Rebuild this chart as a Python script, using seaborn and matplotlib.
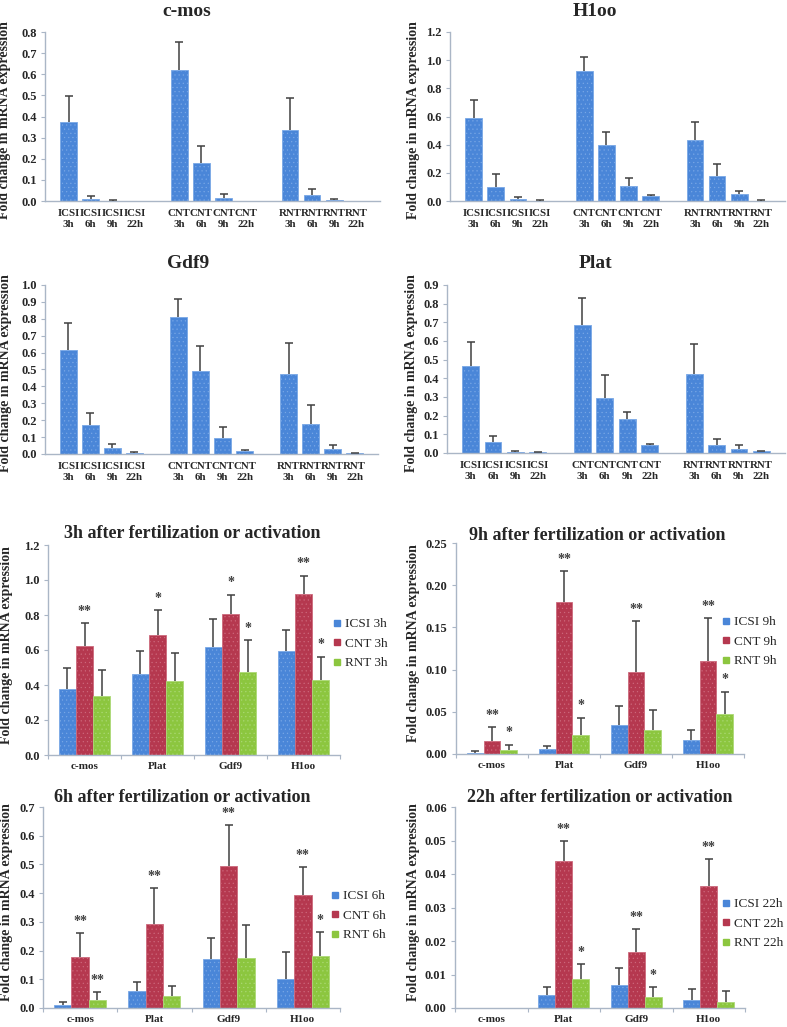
import matplotlib
matplotlib.use("Agg")
import matplotlib.pyplot as plt
from matplotlib.lines import Line2D
from matplotlib.ticker import FixedLocator, FormatStrFormatter, MultipleLocator
import numpy as np
import pandas as pd
import seaborn as sns

# ---------------- data ----------------
genes = ["c-mos", "Plat", "Gdf9", "H1oo"]
groups = ["ICSI", "CNT", "RNT"]
times = ["3h", "6h", "9h", "22h"]

# mean fold change, per time (3h, 6h, 9h, 22h)
cmos_icsi = [0.375, 0.010, 0.0015, 0.0]
cmos_cnt = [0.622, 0.178, 0.0155, 0.0]
cmos_rnt = [0.337, 0.027, 0.005, 0.0]
plat_icsi = [0.465, 0.058, 0.006, 0.0038]
plat_cnt = [0.685, 0.292, 0.180, 0.0438]
plat_rnt = [0.422, 0.043, 0.022, 0.0087]
gdf9_icsi = [0.615, 0.172, 0.034, 0.0068]
gdf9_cnt = [0.808, 0.493, 0.097, 0.0167]
gdf9_rnt = [0.475, 0.175, 0.028, 0.0033]
h1oo_icsi = [0.592, 0.100, 0.016, 0.0025]
h1oo_cnt = [0.922, 0.395, 0.110, 0.0363]
h1oo_rnt = [0.430, 0.180, 0.047, 0.0018]

# error (upper error bar length)
cmos_icsi_err = [0.120, 0.012, 0.0015, 0.0]
cmos_cnt_err = [0.133, 0.084, 0.0165, 0.0]
cmos_rnt_err = [0.151, 0.029, 0.006, 0.0]
plat_icsi_err = [0.132, 0.034, 0.004, 0.0024]
plat_cnt_err = [0.143, 0.126, 0.037, 0.0061]
plat_rnt_err = [0.161, 0.032, 0.021, 0.0043]
gdf9_icsi_err = [0.162, 0.071, 0.023, 0.0050]
gdf9_cnt_err = [0.109, 0.145, 0.060, 0.0070]
gdf9_rnt_err = [0.183, 0.113, 0.024, 0.0029]
h1oo_icsi_err = [0.123, 0.095, 0.012, 0.0032]
h1oo_cnt_err = [0.103, 0.095, 0.051, 0.0081]
h1oo_rnt_err = [0.132, 0.084, 0.027, 0.0032]

# significance marks: (gene, group, mark) per time point
stars_3h = [("c-mos", "CNT", "**"), ("Plat", "CNT", "*"), ("Gdf9", "CNT", "*"),
            ("Gdf9", "RNT", "*"), ("H1oo", "CNT", "**"), ("H1oo", "RNT", "*")]
stars_9h = [("c-mos", "CNT", "**"), ("c-mos", "RNT", "*"), ("Plat", "CNT", "**"),
            ("Plat", "RNT", "*"), ("Gdf9", "CNT", "**"), ("H1oo", "CNT", "**"),
            ("H1oo", "RNT", "*")]
stars_6h = [("c-mos", "CNT", "**"), ("c-mos", "RNT", "**"), ("Plat", "CNT", "**"),
            ("Gdf9", "CNT", "**"), ("H1oo", "CNT", "**"), ("H1oo", "RNT", "*")]
stars_22h = [("Plat", "CNT", "**"), ("Plat", "RNT", "*"), ("Gdf9", "CNT", "**"),
             ("Gdf9", "RNT", "*"), ("H1oo", "CNT", "**")]

# ---------------- assemble ----------------
means = {
    "c-mos": {"ICSI": cmos_icsi, "CNT": cmos_cnt, "RNT": cmos_rnt},
    "Plat": {"ICSI": plat_icsi, "CNT": plat_cnt, "RNT": plat_rnt},
    "Gdf9": {"ICSI": gdf9_icsi, "CNT": gdf9_cnt, "RNT": gdf9_rnt},
    "H1oo": {"ICSI": h1oo_icsi, "CNT": h1oo_cnt, "RNT": h1oo_rnt},
}
errs = {
    "c-mos": {"ICSI": cmos_icsi_err, "CNT": cmos_cnt_err, "RNT": cmos_rnt_err},
    "Plat": {"ICSI": plat_icsi_err, "CNT": plat_cnt_err, "RNT": plat_rnt_err},
    "Gdf9": {"ICSI": gdf9_icsi_err, "CNT": gdf9_cnt_err, "RNT": gdf9_rnt_err},
    "H1oo": {"ICSI": h1oo_icsi_err, "CNT": h1oo_cnt_err, "RNT": h1oo_rnt_err},
}
stars = {"3h": stars_3h, "6h": stars_6h, "9h": stars_9h, "22h": stars_22h}

rows = []
for g in genes:
    for gr in groups:
        for i, t in enumerate(times):
            rows.append(dict(gene=g, group=gr, time=t, label=f"{gr}\n{t}",
                             value=means[g][gr][i], err=errs[g][gr][i]))
df = pd.DataFrame(rows)

# ---------------- style ----------------
sns.set_theme(style="white")
plt.rcParams["font.family"] = ["Liberation Serif", "DejaVu Serif"]
plt.rcParams["hatch.linewidth"] = 0.35

W, H = 787, 1027
fig = plt.figure(figsize=(W / 100, H / 100), dpi=100)
fig.patch.set_facecolor("white")

BLUE, RED, GREEN = "#4a86d8", "#b5384f", "#8cc63f"
BLUE_E, RED_E, GREEN_E = "#7aa8e6", "#cd6a7d", "#acd977"
palette = {"ICSI": BLUE, "CNT": RED, "RNT": GREEN}
edge = {"ICSI": BLUE_E, "CNT": RED_E, "RNT": GREEN_E}
SPINE = "#aab6c6"
TXT = "#262626"
ERRC = "#404040"


def rect(x0, y0, x1, y1):
    return [x0 / W, 1 - y1 / H, (x1 - x0) / W, (y1 - y0) / H]


def style_axes(ax, ymax, ystep, fmt):
    for s in ["top", "right"]:
        ax.spines[s].set_visible(False)
    for s in ["left", "bottom"]:
        ax.spines[s].set_color(SPINE)
        ax.spines[s].set_linewidth(1.0)
    ax.set_ylim(0, ymax)
    ax.yaxis.set_major_locator(MultipleLocator(ystep))
    ax.yaxis.set_major_formatter(FormatStrFormatter(fmt))
    ax.tick_params(axis="y", left=True, length=3, width=0.8, color=SPINE,
                   labelsize=9, labelcolor=TXT, pad=3)
    for lab in ax.get_yticklabels():
        lab.set_fontweight("bold")
    ax.set_xlabel("")
    ax.set_ylabel("")


def errbars(ax, xs, ys, es):
    xs, ys, es = np.array(xs), np.array(ys), np.array(es)
    m = es > 0
    ax.vlines(xs[m], ys[m], ys[m] + es[m], color=ERRC, linewidth=1.1, zorder=5)
    ax.plot(xs[m], ys[m] + es[m], linestyle="none", marker="_", markersize=6,
            markeredgewidth=1.1, color=ERRC, zorder=5)


def ylabel(xc, yc):
    fig.text(xc / W, 1 - yc / H, "Fold change in mRNA expression", rotation=90,
             ha="center", va="center", fontsize=10, fontweight="bold", color=TXT)


def title(xc, yc, s, size):
    fig.text(xc / W, 1 - yc / H, s, ha="center", va="center", fontsize=size,
             fontweight="bold", color=TXT)


# ---------------- top: per gene panels ----------------
slot_order = []
for k, gr in enumerate(groups):
    slot_order += [f"{gr}\n{t}" for t in times]
    if k < 2:
        slot_order.append(" " * (k + 1))

top_panels = [
    ("c-mos", (45, 32, 380, 201), 0.8, 0.1, "%.1f", (187, 11), 5),
    ("H1oo", (450, 32, 785, 201), 1.2, 0.2, "%.1f", (595, 11), 413),
    ("Gdf9", (45, 285, 378, 454), 1.0, 0.1, "%.1f", (188, 263), 6),
    ("Plat", (447, 285, 785, 453), 0.9, 0.1, "%.1f", (595, 263), 411),
]
for g, r, ymax, ystep, fmt, tpos, ylx in top_panels:
    ax = fig.add_axes(rect(*r))
    sub = df[df.gene == g]
    sns.barplot(data=sub, x="label", y="value", order=slot_order, color=BLUE,
                width=0.75, errorbar=None, ax=ax, saturation=1)
    xs, ys, es = [], [], []
    for bar in ax.patches:
        bar.set_edgecolor(BLUE_E)
        bar.set_linewidth(0.6)
        bar.set_hatch("....")
        xc = bar.get_x() + bar.get_width() / 2
        lab = slot_order[int(round(xc))]
        row = sub[sub.label == lab].iloc[0]
        xs.append(xc); ys.append(row.value); es.append(row.err)
    errbars(ax, xs, ys, es)
    style_axes(ax, ymax, ystep, fmt)
    ax.set_xticks(range(len(slot_order)))
    ax.set_xticklabels([s if s.strip() else "" for s in slot_order])
    ax.tick_params(axis="x", bottom=False, length=0, labelsize=7.8,
                   labelcolor=TXT, pad=6)
    for lab in ax.get_xticklabels():
        lab.set_fontweight("bold")
        lab.set_linespacing(1.2)
    title(*tpos, g, 14)
    ylabel(ylx, (r[1] + r[3]) / 2 + 4)

# ---------------- bottom: per time panels ----------------
bottom_panels = [
    ("3h", (48, 545, 340, 755), 1.2, 0.2, "%.1f", (192, 533), 7, (333, 618)),
    ("9h", (456, 543, 744, 754), 0.25, 0.05, "%.2f", (597, 536), 413, (722, 616)),
    ("6h", (43, 807, 340, 1008), 0.7, 0.1, "%.1f", (182, 797), 7, (331, 890)),
    ("22h", (455, 807, 745, 1008), 0.06, 0.01, "%.2f", (600, 797), 413, (722, 898)),
]
for t, r, ymax, ystep, fmt, tpos, ylx, lpos in bottom_panels:
    ax = fig.add_axes(rect(*r))
    sub = df[df.time == t]
    sns.barplot(data=sub, x="gene", y="value", hue="group", order=genes,
                hue_order=groups, palette=palette, width=0.7, gap=0,
                errorbar=None, legend=False, ax=ax, saturation=1)
    xs, ys, es = [], [], []
    star_pos = {}
    for gr, cont in zip(groups, ax.containers):
        for bar in cont:
            bar.set_edgecolor(edge[gr])
            bar.set_linewidth(0.6)
            bar.set_hatch("....")
            xc = bar.get_x() + bar.get_width() / 2
            g = genes[int(round(xc))]
            row = sub[(sub.gene == g) & (sub.group == gr)].iloc[0]
            xs.append(xc); ys.append(row.value); es.append(row.err)
            star_pos[(g, gr)] = (xc, row.value + row.err)
    errbars(ax, xs, ys, es)
    for g, gr, mark in stars[t]:
        xc, top = star_pos[(g, gr)]
        ax.text(xc, top + ymax * 0.025, mark, ha="center", va="bottom",
                fontsize=10, fontweight="bold", color=ERRC)
    style_axes(ax, ymax, ystep, fmt)
    ax.set_xlim(-0.5, len(genes) - 0.5)
    ax.set_xticks(range(len(genes)))
    ax.set_xticklabels(genes)
    ax.xaxis.set_minor_locator(FixedLocator(np.arange(-0.5, len(genes), 1.0)))
    ax.tick_params(axis="x", which="major", bottom=False, length=0,
                   labelsize=8, labelcolor=TXT, pad=5)
    ax.tick_params(axis="x", which="minor", bottom=True, length=3, width=0.8,
                   color=SPINE)
    for lab in ax.get_xticklabels():
        lab.set_fontweight("bold")
    title(*tpos, f"{t} after fertilization or activation", 13)
    ylabel(ylx, (r[1] + r[3]) / 2 - 5)
    handles = [Line2D([], [], marker="s", linestyle="none", markersize=5,
                      markerfacecolor=palette[gr], markeredgecolor=palette[gr])
               for gr in groups]
    ax.legend(handles, [f"{gr} {t}" for gr in groups], loc="upper left",
              bbox_to_anchor=(lpos[0] / W, 1 - lpos[1] / H),
              bbox_transform=fig.transFigure, frameon=False, fontsize=9.5,
              handlelength=0.6, handletextpad=0.3, labelspacing=0.55,
              borderpad=0, borderaxespad=0, labelcolor=TXT)

fig.savefig("out.png", dpi=100, facecolor="white")
